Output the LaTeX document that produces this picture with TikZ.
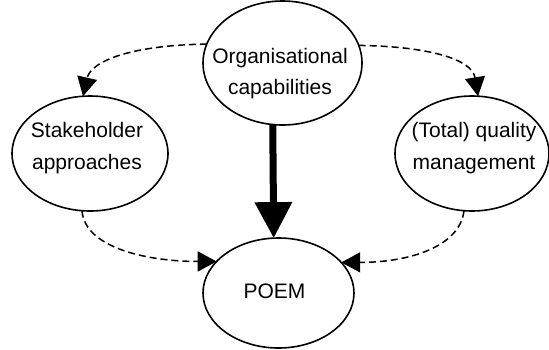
\documentclass[tikz,border=0pt]{standalone}
\usepackage{fontspec}
\setmainfont{Liberation Sans}
\usetikzlibrary{arrows.meta,shapes.geometric}
\begin{document}
\begin{tikzpicture}[x=1pt,y=-1pt,
  oval/.style={draw, ellipse, line width=1.6pt, inner sep=0pt, outer sep=0pt},
  lbl/.style={align=center, font=\fontsize{21}{31.5}\selectfont, anchor=base, inner sep=0pt},
  influence/.style={line width=1.5pt, dash pattern=on 7pt off 4pt,
    -{Triangle[length=19pt,width=20pt]}},
  core/.style={line width=7pt, -{Triangle[length=36pt,width=36pt]}}]
\useasboundingbox (0,0) rectangle (549,349);

% the four concepts
\node[oval, minimum width=159pt, minimum height=124pt] (org)   at (282.5,63)  {};
\node[oval, minimum width=156pt, minimum height=115pt] (stake) at (90,153.5)  {};
\node[oval, minimum width=154pt, minimum height=115pt] (qual)  at (472,153.5) {};
\node[oval, minimum width=151pt, minimum height=110pt] (poem)  at (278.5,293) {};

% their labels (anchored at the baseline of the last line)
\node[lbl] (orgT)   at (280,94.5)  {Organisational\\capabilities};
\node[lbl] (stakeT) at (87,169)    {Stakeholder\\approaches};
\node[lbl] (qualT)  at (474,169)   {(Total) quality\\management};
\node[lbl] (poemT)  at (274.5,298.3) {POEM};

% main influence
\draw[core] (org.261.3) -- (poem.95.7);

% indirect influences
\draw[influence] (org.166.7) .. controls +(-76,1) and +(8,-35) .. (stake.97.8);
\draw[influence] (org.13.1) .. controls +(70,1) and +(-6,-37) .. (qual.84.1);
\draw[influence] (stake.262) .. controls +(3,38) and +(-67,0) .. (poem.153);
\draw[influence] (qual.262) .. controls +(-4,36) and +(68,0) .. (poem.26);
\end{tikzpicture}
\end{document}
